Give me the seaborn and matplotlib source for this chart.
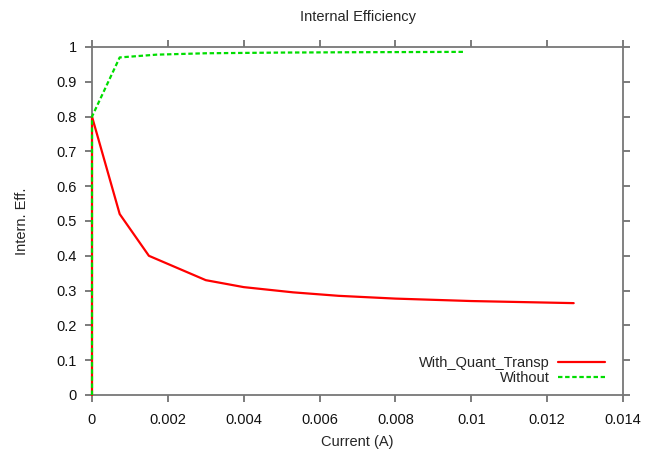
import numpy as np
import pandas as pd
import matplotlib
matplotlib.use("Agg")
import matplotlib.pyplot as plt
import seaborn as sns

# Data
x_quant = [0.0, 0.0, 0.00073, 0.0015, 0.003, 0.004, 0.0053, 0.0065, 0.008, 0.010, 0.0127]
y_quant = [0.0, 0.80, 0.52, 0.40, 0.33, 0.31, 0.295, 0.285, 0.277, 0.270, 0.264]
x_without = [0.0, 0.0, 0.00073, 0.0017, 0.003, 0.005, 0.007, 0.0098]
y_without = [0.0, 0.80, 0.97, 0.978, 0.982, 0.984, 0.985, 0.986]
series_names = ["With_Quant_Transp", "Without"]
xticks = [0, 0.002, 0.004, 0.006, 0.008, 0.01, 0.012, 0.014]
xtick_labels = ["0", "0.002", "0.004", "0.006", "0.008", "0.01", "0.012", "0.014"]
yticks = [0, 0.1, 0.2, 0.3, 0.4, 0.5, 0.6, 0.7, 0.8, 0.9, 1]
ytick_labels = ["0", "0.1", "0.2", "0.3", "0.4", "0.5", "0.6", "0.7", "0.8", "0.9", "1"]

df = pd.concat([
    pd.DataFrame({"x": x_quant, "y": y_quant, "s": series_names[0], "o": range(len(x_quant))}),
    pd.DataFrame({"x": x_without, "y": y_without, "s": series_names[1], "o": range(len(x_without))}),
])

sns.set_style("white")
plt.rcParams["font.family"] = ["Liberation Sans", "DejaVu Sans"]

fig = plt.figure(figsize=(6.53, 4.51), dpi=100)
ax = fig.add_axes([92 / 653, 1 - 395 / 451, (623 - 92) / 653, (395 - 47) / 451])

sns.lineplot(data=df, x="x", y="y", hue="s", style="s",
             palette={series_names[0]: "#ff0000", series_names[1]: "#00dd00"},
             dashes={series_names[0]: "", series_names[1]: (2, 1.2)},
             estimator=None, sort=False, linewidth=1.6, ax=ax, legend=False)
for ln in ax.get_lines():
    ln.set_clip_on(False)
    ln.set_zorder(3)

h1, = ax.plot([], [], color="#ff0000", lw=1.6)
h2, = ax.plot([], [], color="#00dd00", lw=1.6, dashes=(2, 1.2))
leg = ax.legend([h1, h2], series_names, loc="lower right", markerfirst=False,
                frameon=False, fontsize=10.5, handlelength=3.2, handletextpad=0.6,
                labelspacing=0.05, borderaxespad=0.3, bbox_to_anchor=(0.985, 0.0))
for t in leg.get_texts():
    t.set_ha("right")
leg._legend_box.align = "right"

ax.set_xlim(0, 0.014)
ax.set_ylim(0, 1)
ax.set_xticks(xticks)
ax.set_xticklabels(xtick_labels)
ax.set_yticks(yticks)
ax.set_yticklabels(ytick_labels)
ax.tick_params(axis="both", which="both", direction="out", length=5, width=1.2,
               color="#666666", labelsize=10.5, labelcolor="#111111",
               top=True, right=True, bottom=True, left=True, pad=6)
ax.tick_params(axis="x", pad=8)
for sp in ax.spines.values():
    sp.set_color("#777777")
    sp.set_linewidth(1.3)
    sp.set_visible(True)

ax.set_xlabel("Current (A)", fontsize=10.5, labelpad=6)
ax.set_ylabel("Intern. Eff.", fontsize=10.5, labelpad=20)
ax.set_title("Internal Efficiency", fontsize=10.5, pad=19)

fig.savefig("out.png", dpi=100, facecolor="white")
